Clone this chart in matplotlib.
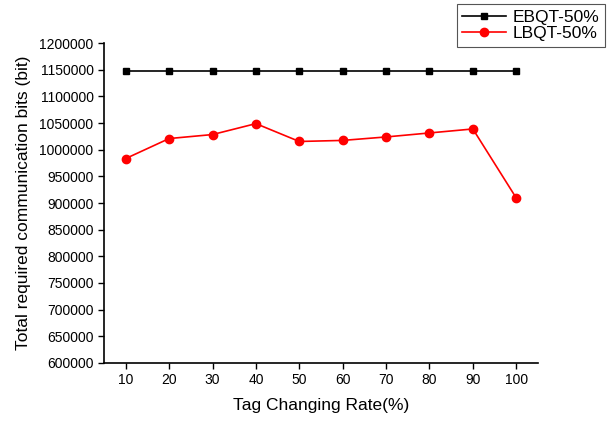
import matplotlib
matplotlib.use("Agg")
import matplotlib.pyplot as plt
from matplotlib.ticker import FuncFormatter

plt.rcParams["font.family"] = ["Liberation Sans", "DejaVu Sans"]

# data
rate = [10, 20, 30, 40, 50, 60, 70, 80, 90, 100]
ebqt = [1147000, 1147000, 1147000, 1147000, 1147000, 1147000, 1147000, 1147000, 1147000, 1147000]
lbqt = [983500, 1021000, 1028500, 1049000, 1015500, 1017500, 1024000, 1031500, 1039000, 909500]
yticks = list(range(600000, 1200001, 50000))

fig = plt.figure(figsize=(6.12, 4.23), dpi=100)
ax = fig.add_axes([0.170, 0.142, 0.709, 0.756])

ax.plot(rate, ebqt, "-s", color="black", lw=1.2, ms=5, label="EBQT-50%")
ax.plot(rate, lbqt, "-o", color="red", lw=1.2, ms=6, label="LBQT-50%")

ax.set_xlim(5, 105)
ax.set_ylim(600000, 1200000)
ax.set_xticks(rate)
ax.set_yticks(yticks)
ax.yaxis.set_major_formatter(FuncFormatter(lambda v, p: f"{int(round(v))}"))
ax.tick_params(direction="out", length=4, width=1, labelsize=10)
for s in ("top", "right"):
    ax.spines[s].set_visible(False)
for s in ("left", "bottom"):
    ax.spines[s].set_linewidth(1.2)

ax.set_xlabel("Tag Changing Rate(%)", fontsize=12.5, labelpad=8)
ax.set_ylabel("Total required communication bits (bit)", fontsize=12.5, labelpad=6)

leg = fig.legend(loc="upper right", bbox_to_anchor=(0.988, 0.99), fontsize=12.5,
                 fancybox=False, edgecolor="#555555", framealpha=1,
                 borderpad=0.3, labelspacing=0.1, handlelength=2.5,
                 handletextpad=0.4, borderaxespad=0)
leg.get_frame().set_linewidth(0.8)

fig.savefig("out.png", dpi=100)
